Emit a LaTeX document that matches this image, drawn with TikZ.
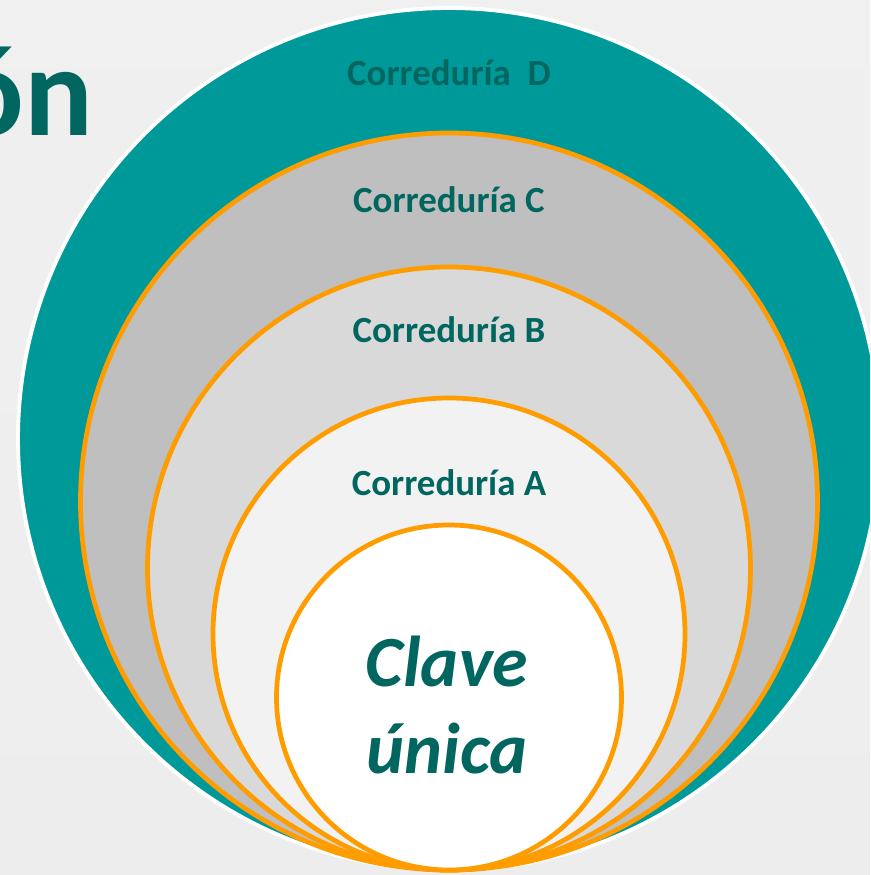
\documentclass[tikz,border=0pt]{standalone}
\usepackage{fontspec}
\setmainfont{Carlito}
\definecolor{tealfill}{HTML}{009999}
\definecolor{tealtext}{HTML}{00665F}
\definecolor{ringorange}{HTML}{FF9C00}
\definecolor{grayC}{HTML}{BFBFBF}
\definecolor{grayB}{HTML}{D9D9D9}
\definecolor{grayA}{HTML}{F2F2F2}
\begin{document}
\begin{tikzpicture}[x=0.02cm,y=-0.02cm,
    ring/.style={draw=ringorange,line width=2.7pt},
    lbl/.style={text=tealtext,font=\bfseries\fontsize{21}{25}\selectfont}]
  \useasboundingbox (0,0) rectangle (870,875);
  \clip (0,0) rectangle (870,875);
  \shade [top color=black!6, middle color=black!11, bottom color=black!7]
    (0,0) rectangle (870,875);

  \node [anchor=base east, text=tealtext,
    font=\bfseries\fontsize{73}{80}\selectfont] (title) at (99,135) {ón};

  \fill [tealfill, draw=white, line width=2.2pt] (449,439) circle (431);
  \node [lbl] (corrD) at (449,73) {Correduría\ \ D};

  \fill [grayC, ring] (449,501.5) circle (368.5);
  \node [lbl] (corrC) at (449,200) {Correduría C};

  \fill [grayB, ring] (449,568.5) circle (301.5);
  \node [lbl] (corrB) at (449,330) {Correduría B};

  \fill [grayA, ring] (449,634) circle (236);
  \node [lbl] (corrA) at (449,483) {Correduría A};

  \fill [white, ring] (449,697.5) circle (172.5);
  \node [text=tealtext, align=center,
    font=\bfseries\itshape\fontsize{41}{50}\selectfont] (clave) at (447,705)
    {Clave\\única};
\end{tikzpicture}
\end{document}
